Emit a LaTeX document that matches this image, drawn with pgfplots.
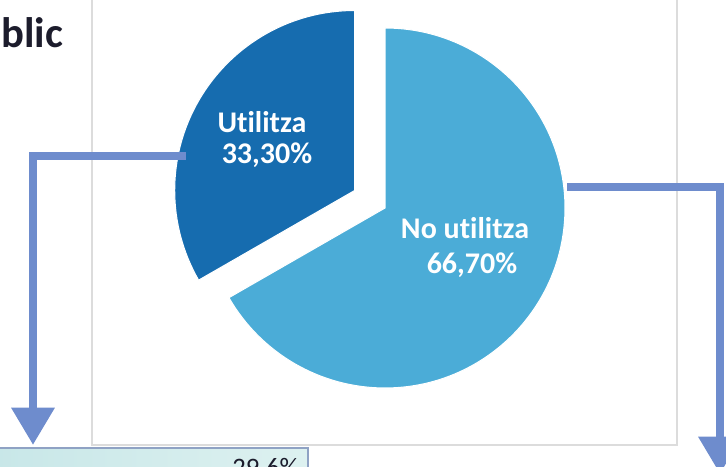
\documentclass[border=0pt]{standalone}
\usepackage{fontspec}
\setmainfont{Carlito}[Ligatures=NoCommon]
\usepackage{pgfplots}
\pgfplotsset{compat=1.18}
\usetikzlibrary{arrows.meta}
\definecolor{darkc}{HTML}{166CAF}
\definecolor{lightc}{HTML}{4BACD7}
\definecolor{arrowc}{HTML}{6E8CCD}
\definecolor{titlec}{HTML}{1C1C2C}
\definecolor{framec}{HTML}{DCDCDC}
\definecolor{boxl}{HTML}{C8E7E8}
\definecolor{boxr}{HTML}{DDF1F0}
\definecolor{boxd}{HTML}{8FA2C4}

\begin{document}
\begin{tikzpicture}
% shares in percent
\def\used{33.3}
\def\notused{66.7}
\pgfmathsetmacro\endN{90-3.6*\notused}
\pgfmathsetmacro\endU{90+3.6*\used}
\begin{axis}[name=ax,scale only axis,width=544.5pt,height=350.25pt,
  xmin=0,xmax=726,ymin=0,ymax=467,hide axis,clip=false]
% frame of the chart
\draw[framec,line width=0.8pt] (axis cs:92,22) rectangle (axis cs:677,490);
% slices (1 unit = 0.75pt, radius 180 units)
\fill[lightc,draw=white,line width=0.8pt] (axis cs:385,259) -- ++(90:135pt)
  arc[start angle=90,end angle=\endN,radius=135pt] -- cycle;
\fill[darkc,draw=white,line width=0.8pt] (axis cs:354.7,276.5) -- ++(90:135pt)
  arc[start angle=90,end angle=\endU,radius=135pt] -- cycle;
\tikzset{lab/.style={text=white,inner sep=0pt,font=\bfseries\fontsize{22.5}{26}\selectfont}}
\node[lab] at (axis cs:262,345) {Utilitza};
\node[lab] at (axis cs:267,312) {33,30\%};
\node[lab] at (axis cs:465,239) {No utilitza};
\node[lab] at (axis cs:472,202) {66,70\%};
% connectors
\draw[arrowc,line width=6.5pt,line join=miter,-{Triangle[width=31pt,length=28pt]}]
  (axis cs:186,311) -- (axis cs:33,311) -- (axis cs:33,22);
\draw[arrowc,line width=6.5pt,line join=miter,-{Triangle[width=31pt,length=28pt]}]
  (axis cs:567,280) -- (axis cs:720,280) -- (axis cs:720,-7);
% box below
\shade[left color=boxl,right color=boxr,draw=boxd,line width=0.8pt]
  (axis cs:-5,19) rectangle (axis cs:308,-30);
\node[anchor=north east,inner sep=0pt,text=titlec,font=\fontsize{20}{24}\selectfont] at (axis cs:299,9) {29,6\%};
% title fragment
\node[anchor=base west,inner sep=0pt,text=titlec,font=\bfseries\fontsize{32}{38}\selectfont] at (axis cs:1,419) {blic};
\end{axis}
\pgfresetboundingbox
\path[use as bounding box] (ax.south west) rectangle (ax.north east);
\end{tikzpicture}
\end{document}
